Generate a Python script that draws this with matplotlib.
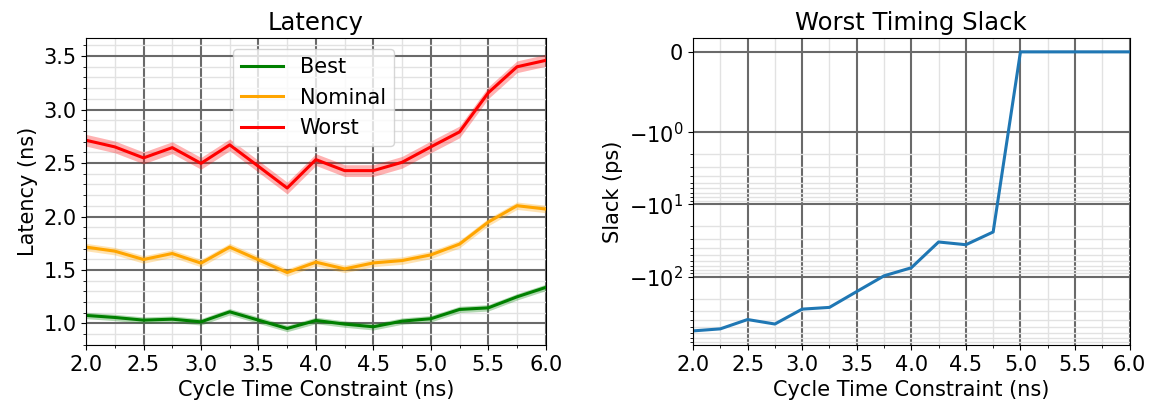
import numpy as np
import matplotlib.pyplot as plt
from matplotlib.ticker import MultipleLocator

# Cycle time constraint (ns)
cycle = [2.0, 2.25, 2.5, 2.75, 3.0, 3.25, 3.5, 3.75, 4.0, 4.25, 4.5, 4.75,
         5.0, 5.25, 5.5, 5.75, 6.0]

# latency (ns)
best = [1.075, 1.056, 1.031, 1.040, 1.015, 1.109, 1.031, 0.953, 1.028, 0.994,
        0.969, 1.022, 1.044, 1.131, 1.146, 1.249, 1.337]
nominal = [1.714, 1.676, 1.598, 1.654, 1.564, 1.714, 1.595, 1.476, 1.573, 1.510,
           1.566, 1.588, 1.641, 1.742, 1.948, 2.101, 2.070]
worst = [2.713, 2.651, 2.548, 2.644, 2.497, 2.670, 2.469, 2.266, 2.532, 2.429,
         2.429, 2.507, 2.651, 2.791, 3.157, 3.400, 3.460]
# half-width of shaded band (ns)
best_err = 0.03
nominal_err = 0.035
worst_err = 0.055

# worst slack (ps)
slack = [-560, -525, -390, -450, -280, -265, -160, -97, -75, -33, -36, -24,
         0, 0, 0, 0, 0]

plt.rcParams['font.size'] = 15

fig = plt.figure(figsize=(11.55, 4.12), dpi=100)
ax1 = fig.add_axes([0.0745, 0.163, 0.398, 0.745])
ax2 = fig.add_axes([0.600, 0.163, 0.378, 0.745])

x = np.array(cycle)
for vals, err, col, lab in [(best, best_err, 'green', 'Best'),
                            (nominal, nominal_err, 'orange', 'Nominal'),
                            (worst, worst_err, 'red', 'Worst')]:
    v = np.array(vals)
    ax1.plot(x, v, color=col, lw=2.2, label=lab)
    ax1.fill_between(x, v - err, v + err, color=col, alpha=0.3, lw=0)

ax1.set_xlim(2.0, 6.0)
ax1.set_ylim(0.8, 3.67)
ax1.xaxis.set_major_locator(MultipleLocator(0.5))
ax1.xaxis.set_minor_locator(MultipleLocator(0.25))
ax1.yaxis.set_major_locator(MultipleLocator(0.5))
ax1.yaxis.set_minor_locator(MultipleLocator(0.1))
ax1.set_title('Latency', fontsize=17.5)
ax1.set_xlabel('Cycle Time Constraint (ns)')
ax1.set_ylabel('Latency (ns)')
ax1.legend(loc='upper center', bbox_to_anchor=(0.495, 0.998), fontsize=15)

ax2.plot(x, slack, color='C0', lw=2.2)
ax2.set_yscale('symlog', linthresh=1, subs=list(range(2, 10)))
ax2.set_xlim(2.0, 6.0)
ax2.xaxis.set_major_locator(MultipleLocator(0.5))
ax2.xaxis.set_minor_locator(MultipleLocator(0.25))
ax2.set_title('Worst Timing Slack', fontsize=17.5)
ax2.set_xlabel('Cycle Time Constraint (ns)')
ax2.set_ylabel('Slack (ps)')

for ax in (ax1, ax2):
    ax.grid(which='major', color='#6a6a6a', lw=1.5)
    ax.grid(which='minor', color='#e2e2e2', lw=1)
    ax.set_axisbelow(True)

fig.savefig('out.png', dpi=100)
